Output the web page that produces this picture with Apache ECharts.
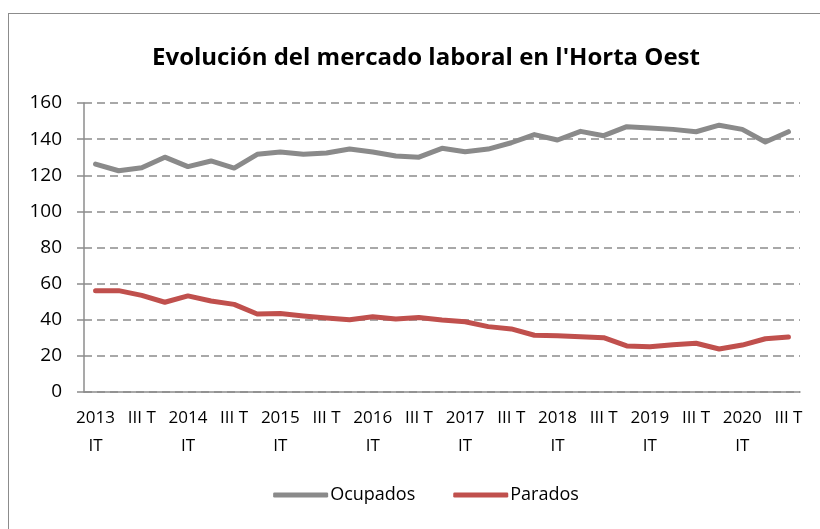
<!DOCTYPE html>
<html>
<head>
<meta charset="utf-8">
<script src="https://cdn.jsdelivr.net/npm/echarts@6/dist/echarts.min.js"></script>
<style>
  html, body { margin: 0; padding: 0; background: #fff; overflow: hidden; width: 820px; height: 529px; }
  #chart { position: absolute; left: 8px; top: 13px; width: 834px; height: 530px; border: 1px solid #8c8c8c; }
</style>
</head>
<body>
<div id="chart"></div>
<script>
// trimestres 2013 IT .. 2020 III T
const categories = [
  '2013 IT', 'II T', 'III T', 'IV T',
  '2014 IT', 'II T', 'III T', 'IV T',
  '2015 IT', 'II T', 'III T', 'IV T',
  '2016 IT', 'II T', 'III T', 'IV T',
  '2017 IT', 'II T', 'III T', 'IV T',
  '2018 IT', 'II T', 'III T', 'IV T',
  '2019 IT', 'II T', 'III T', 'IV T',
  '2020 IT', 'II T', 'III T'
];

const ocupados = [
  126.2, 122.5, 124.2, 130.0, 124.8, 127.9, 124.0, 131.6,
  132.9, 131.6, 132.3, 134.5, 132.9, 130.7, 130.0, 134.9,
  133.0, 134.5, 138.0, 142.5, 139.5, 144.3, 141.9, 146.9,
  146.2, 145.4, 144.1, 147.7, 145.4, 138.4, 144.1
];

const parados = [
  56.1, 56.1, 53.5, 49.7, 53.2, 50.4, 48.5, 43.2,
  43.4, 42.1, 41.0, 40.0, 41.7, 40.4, 41.2, 39.9,
  38.9, 36.2, 34.9, 31.4, 31.2, 30.6, 30.1, 25.5,
  25.1, 26.2, 27.0, 23.8, 26.0, 29.5, 30.5
];

const yTicks = { min: 0, max: 160, interval: 20 };

const font = 'Open Sans';
const axisGray = '#8c8c8c';

const chart = echarts.init(document.getElementById('chart'));

chart.setOption({
  animation: false,
  textStyle: { fontFamily: font },
  title: {
    text: "Evolución del mercado laboral en l'Horta Oest",
    left: 'center',
    top: 27,
    textStyle: { fontFamily: font, fontSize: 24, fontWeight: 'bold', color: '#000' }
  },
  legend: {
    bottom: 35,
    left: 'center',
    icon: 'roundRect',
    itemWidth: 55,
    itemHeight: 5,
    itemGap: 38,
    textStyle: { fontFamily: font, fontSize: 18, color: '#000', padding: [0, 0, 0, -3] },
    data: ['Ocupados', 'Parados']
  },
  grid: { left: 75, right: 43, top: 89, bottom: 152, containLabel: false },
  xAxis: {
    type: 'category',
    data: categories,
    boundaryGap: true,
    axisLine: { lineStyle: { color: axisGray, width: 1.5 } },
    axisTick: { interval: 0, length: 6, lineStyle: { color: axisGray, width: 1.5 } },
    axisLabel: {
      interval: 1,
      margin: 12,
      fontSize: 17,
      lineHeight: 28,
      color: '#000',
      formatter: v => v.replace(/^(\d{4}) /, '$1\n')
    }
  },
  yAxis: {
    type: 'value',
    min: yTicks.min,
    max: yTicks.max,
    interval: yTicks.interval,
    axisLine: { show: true, lineStyle: { color: axisGray, width: 1.5 } },
    axisTick: { show: true, length: 7, lineStyle: { color: axisGray, width: 1.5 } },
    axisLabel: { margin: 22, fontSize: 19, color: '#000' },
    splitLine: { lineStyle: { color: axisGray, type: [8, 5], width: 1.5 } }
  },
  series: [
    {
      name: 'Ocupados',
      type: 'line',
      data: ocupados,
      symbol: 'none',
      itemStyle: { color: '#8a8a8a' },
      lineStyle: { color: '#8a8a8a', width: 5, cap: 'round', join: 'round' }
    },
    {
      name: 'Parados',
      type: 'line',
      data: parados,
      symbol: 'none',
      itemStyle: { color: '#c0504d' },
      lineStyle: { color: '#c0504d', width: 5, cap: 'round', join: 'round' }
    }
  ]
});

window.addEventListener('resize', () => chart.resize());
</script>
</body>
</html>
